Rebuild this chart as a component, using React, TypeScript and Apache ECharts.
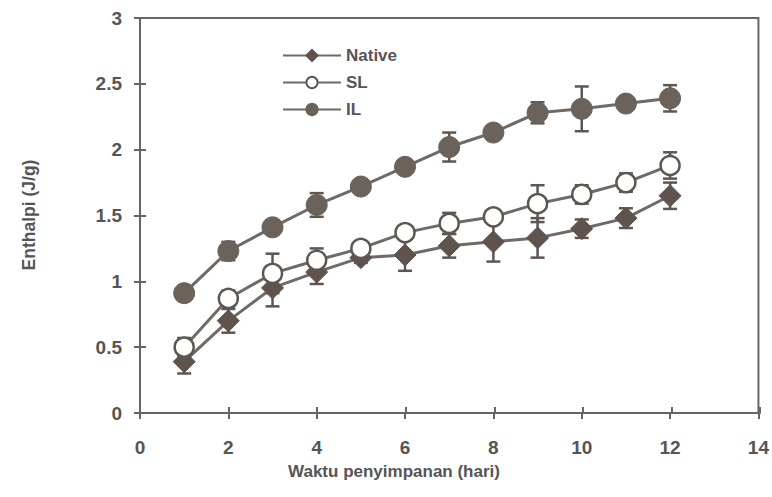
import React, { useEffect, useRef } from "react";
import * as echarts from "echarts";

const days = [1, 2, 3, 4, 5, 6, 7, 8, 9, 10, 11, 12];
const nativeVals = [0.39, 0.70, 0.95, 1.07, 1.18, 1.20, 1.27, 1.30, 1.33, 1.40, 1.48, 1.65];
const nativeErr = [0.09, 0.09, 0.14, 0.09, 0.04, 0.12, 0.09, 0.15, 0.15, 0.07, 0.075, 0.1];
const slVals = [0.50, 0.87, 1.06, 1.16, 1.25, 1.37, 1.44, 1.49, 1.59, 1.66, 1.75, 1.88];
const slErr = [0.07, 0.06, 0.15, 0.09, 0.04, 0.04, 0.08, 0.04, 0.14, 0.07, 0.07, 0.1];
const ilVals = [0.91, 1.23, 1.41, 1.58, 1.72, 1.87, 2.02, 2.13, 2.28, 2.31, 2.35, 2.39];
const ilErr = [0.03, 0.07, 0.03, 0.09, 0.03, 0.03, 0.11, 0.03, 0.08, 0.17, 0.03, 0.1];

const xTitle = "Waktu penyimpanan (hari)";
const yTitle = "Enthalpi (J/g)";

const FONT = "'Liberation Sans', Arial, sans-serif";
const TXT = "#555";
const AX = "#666";
const LINE = "#6f6a66";

function errSeries(vals: number[], errs: number[], name: string) {
  return {
    type: "custom",
    name: name + "_err",
    z: 1,
    silent: true,
    data: days.map((d, i) => [d, vals[i], errs[i]]),
    encode: { x: 0, y: 1 },
    renderItem: (params: any, api: any) => {
      const x = api.value(0);
      const y = api.value(1);
      const e = api.value(2);
      const top = api.coord([x, y + e]);
      const bot = api.coord([x, y - e]);
      const hw = 7;
      const st = { stroke: "#5e5650", lineWidth: 2.5 };
      return {
        type: "group",
        children: [
          { type: "line", shape: { x1: top[0], y1: top[1], x2: bot[0], y2: bot[1] }, style: st },
          { type: "line", shape: { x1: top[0] - hw, y1: top[1], x2: top[0] + hw, y2: top[1] }, style: st },
          { type: "line", shape: { x1: bot[0] - hw, y1: bot[1], x2: bot[0] + hw, y2: bot[1] }, style: st },
        ],
      };
    },
  };
}

export default function App() {
  const ref = useRef<HTMLDivElement>(null);
  useEffect(() => {
    const chart = echarts.init(ref.current!, null, { renderer: "svg" });
    const lineSt = { show: true, onZero: false, lineStyle: { color: AX, width: 2 } };
    const gridPos = { left: 140, right: 12, top: 18, bottom: 84 };
    chart.setOption({
      animation: false,
      backgroundColor: "#fff",
      grid: [
        { ...gridPos, show: true, borderColor: AX, borderWidth: 2, backgroundColor: "transparent" },
        { ...gridPos, show: false },
      ],
      legend: {
        orient: "vertical",
        left: 282,
        top: 47,
        padding: 0,
        itemWidth: 58,
        itemHeight: 14,
        itemGap: 10,
        data: ["Native", "SL", "IL"],
        textStyle: { fontFamily: FONT, fontWeight: "bold", fontSize: 17, color: TXT },
      },
      xAxis: [
        {
          type: "value",
          gridIndex: 0,
          min: 0,
          max: 14,
          interval: 2,
          position: "bottom",
          axisLine: lineSt,
          splitLine: { show: false },
          axisTick: { show: true, length: 6, lineStyle: { color: AX, width: 2 } },
          axisLabel: { margin: 25, fontFamily: FONT, fontWeight: "bold", fontSize: 19, color: TXT },
        },
        {
          type: "value",
          gridIndex: 1,
          min: 0,
          max: 14,
          interval: 2,
          position: "bottom",
          axisLine: lineSt,
          splitLine: { show: false },
          axisTick: { show: true, inside: true, length: 6, lineStyle: { color: AX, width: 2 } },
          axisLabel: { show: false },
        },
      ],
      yAxis: [
        {
          type: "value",
          gridIndex: 0,
          min: 0,
          max: 3,
          interval: 0.5,
          position: "left",
          axisLine: lineSt,
          splitLine: { show: false },
          axisTick: { show: true, length: 6, lineStyle: { color: AX, width: 2 } },
          axisLabel: { margin: 18, fontFamily: FONT, fontWeight: "bold", fontSize: 19, color: TXT },
        },
        {
          type: "value",
          gridIndex: 1,
          min: 0,
          max: 3,
          interval: 0.5,
          position: "left",
          axisLine: lineSt,
          splitLine: { show: false },
          axisTick: { show: true, inside: true, length: 6, lineStyle: { color: AX, width: 2 } },
          axisLabel: { show: false },
        },
      ],
      graphic: [
        {
          type: "text",
          x: 394,
          y: 471,
          style: { text: xTitle, fill: TXT, font: `bold 17px ${FONT}`, textAlign: "center", textVerticalAlign: "middle" },
        },
        {
          type: "text",
          x: 29,
          y: 215,
          rotation: Math.PI / 2,
          style: { text: yTitle, fill: TXT, font: `bold 17.5px ${FONT}`, textAlign: "center", textVerticalAlign: "middle" },
        },
      ],
      series: [
        errSeries(nativeVals, nativeErr, "Native"),
        errSeries(slVals, slErr, "SL"),
        errSeries(ilVals, ilErr, "IL"),
        {
          type: "line",
          name: "Native",
          z: 3,
          data: days.map((d, i) => [d, nativeVals[i]]),
          symbol: "diamond",
          symbolSize: 22,
          lineStyle: { color: LINE, width: 3 },
          itemStyle: { color: "#5e544d", borderColor: "#5e544d", borderWidth: 1 },
        },
        {
          type: "line",
          name: "SL",
          z: 3,
          data: days.map((d, i) => [d, slVals[i]]),
          symbol: "circle",
          symbolSize: 19,
          lineStyle: { color: LINE, width: 3 },
          itemStyle: { color: "#ffffff", borderColor: "#5e5650", borderWidth: 2.5 },
        },
        {
          type: "line",
          name: "IL",
          z: 3,
          data: days.map((d, i) => [d, ilVals[i]]),
          symbol: "circle",
          symbolSize: 21,
          lineStyle: { color: LINE, width: 3 },
          itemStyle: { color: "#6b625b", borderColor: "#6b625b", borderWidth: 1 },
        },
      ],
    });
    return () => chart.dispose();
  }, []);
  return <div ref={ref} style={{ width: 772, height: 497, position: "absolute", left: 0, top: 0 }} />;
}
